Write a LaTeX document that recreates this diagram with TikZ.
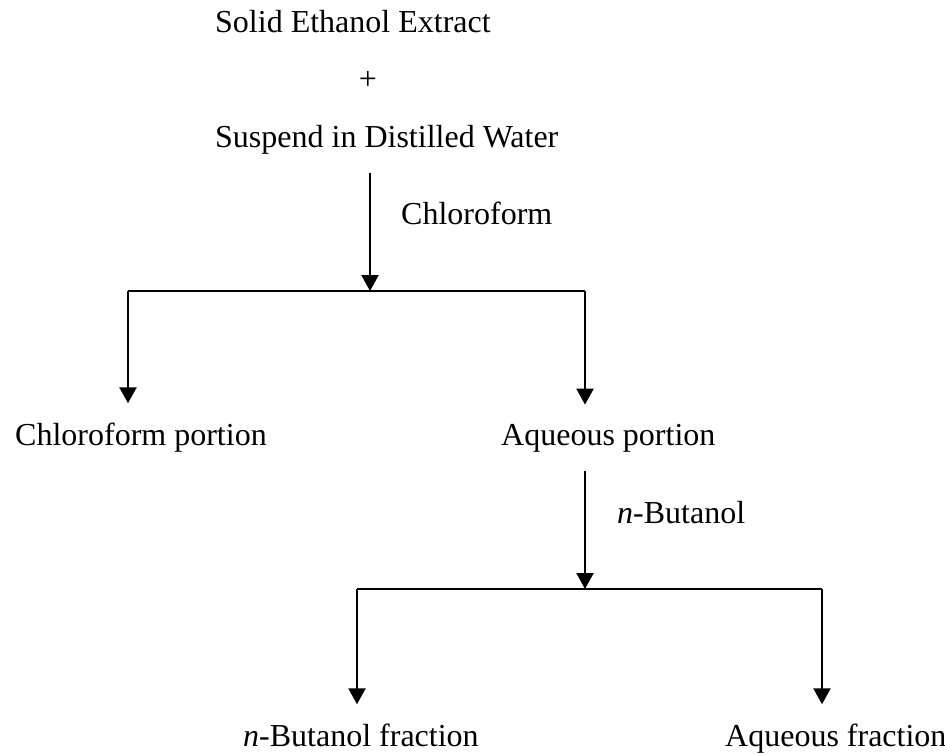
\documentclass[tikz,border=0pt]{standalone}
\usepackage{fontspec}
\setmainfont{Liberation Serif}
\usetikzlibrary{arrows.meta}

\tikzset{
	txt/.style={inner xsep=0pt, inner ysep=19pt, anchor=base west},
	arr/.style={line width=2.4pt, -{Triangle[width=17pt,length=16pt]}},
	lin/.style={line width=2.2pt}
}

\begin{document}
\begin{tikzpicture}[x=1pt, y=-1pt, font=\fontsize{32}{38}\selectfont]
		\useasboundingbox (0,0) rectangle (945,753);
		\node[txt] (solid) at (215,32) {Solid Ethanol Extract};
		\node (plus) at (368,80) {+};
		\node[txt] (susp) at (215,147) {Suspend in Distilled Water};
		\node[txt] (chlf) at (401,224) {Chloroform};
		\coordinate (fork1) at (370,291);
		\coordinate (fork1l) at (128,291);
		\coordinate (fork1r) at (585,291);
		\node[txt] (chlo) at (15,445) {Chloroform portion};
		\node[txt] (aqp) at (501,445) {Aqueous portion};
		\node[txt] (buta) at (617,523) {\textit{n}-Butanol};
		\coordinate (fork2) at (585,589);
		\coordinate (fork2l) at (357,589);
		\coordinate (fork2r) at (822,589);
		\node[txt] (bfrac) at (243,746) {\textit{n}-Butanol fraction};
		\node[txt] (afrac) at (725,746) {Aqueous fraction};
		\draw[arr] (fork1 |- susp.south) -- (fork1);
		\draw[lin] (fork1l) -- (fork1r);
		\draw[arr] (fork1l) -- (fork1l |- chlo.north);
		\draw[arr] (fork1r) -- (fork1r |- aqp.north);
		\draw[arr] (fork2 |- aqp.south) -- (fork2);
		\draw[lin] (fork2l) -- (fork2r);
		\draw[arr] (fork2l) -- (fork2l |- bfrac.north);
		\draw[arr] (fork2r) -- (fork2r |- afrac.north);
\end{tikzpicture}
\end{document}
